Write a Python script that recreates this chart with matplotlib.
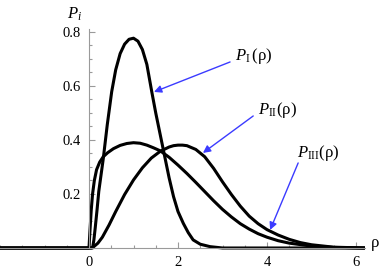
import matplotlib
matplotlib.use("Agg")
import matplotlib.pyplot as plt
import numpy as np

plt.rcParams['font.family'] = ['Liberation Serif', 'DejaVu Serif']
plt.rcParams['mathtext.fontset'] = 'custom'
plt.rcParams['mathtext.rm'] = 'Liberation Serif'
plt.rcParams['mathtext.it'] = 'Liberation Serif:italic'

# Curve I (tall peak at rho~1)
rho_I = [-2.0, 0.08, 0.11, 0.14, 0.18, 0.22, 0.27, 0.32, 0.41, 0.51, 0.60, 0.70,
         0.80, 0.90, 1.00, 1.10, 1.20, 1.30, 1.41, 1.50, 1.60, 1.70, 1.80, 1.90,
         2.00, 2.12, 2.23, 2.34, 2.50, 2.72, 3.0, 6.2]
P_I = [0.0, 0.0, 0.03, 0.075, 0.14, 0.21, 0.27, 0.33, 0.456, 0.579, 0.66, 0.72,
       0.755, 0.773, 0.777, 0.766, 0.735, 0.68, 0.579, 0.50, 0.42, 0.34, 0.26, 0.19,
       0.135, 0.091, 0.057, 0.03, 0.014, 0.005, 0.0, 0.0]

# Curve with broad peak at rho~1 (flat top, long tail)
rho_B = [-2.0, 0.0, 0.02, 0.05, 0.08, 0.12, 0.17, 0.24, 0.32, 0.42, 0.55, 0.70,
         0.85, 1.00, 1.15, 1.30, 1.45, 1.60, 1.80, 2.00, 2.20, 2.40, 2.60, 2.80,
         3.00, 3.20, 3.40, 3.60, 3.80, 4.00, 4.25, 4.50, 5.0, 5.5, 6.2]
P_B = [0.0, 0.0, 0.06, 0.14, 0.20, 0.25, 0.29, 0.318, 0.338, 0.353, 0.368, 0.38,
       0.387, 0.39, 0.388, 0.381, 0.371, 0.36, 0.336, 0.307, 0.276, 0.243, 0.209, 0.175,
       0.143, 0.115, 0.09, 0.07, 0.053, 0.04, 0.027, 0.018, 0.007, 0.002, 0.0]

# Curve peaking at rho~2
rho_C = [-2.0, 0.05, 0.10, 0.20, 0.30, 0.45, 0.60, 0.80, 1.00, 1.20, 1.40, 1.60,
         1.80, 1.90, 2.00, 2.10, 2.20, 2.40, 2.60, 2.80, 3.00, 3.20, 3.40, 3.60,
         3.80, 4.00, 4.25, 4.50, 4.75, 5.0, 5.5, 6.2]
P_C = [0.0, 0.0, 0.004, 0.018, 0.04, 0.085, 0.135, 0.198, 0.252, 0.297, 0.333, 0.358,
       0.374, 0.379, 0.381, 0.381, 0.379, 0.365, 0.338, 0.295, 0.245, 0.198, 0.155, 0.118,
       0.09, 0.068, 0.048, 0.032, 0.02, 0.012, 0.003, 0.0]

x_ticks_major = [0, 2, 4, 6]
x_tick_labels = ['0', '2', '4', '6']
y_ticks_major = [0.2, 0.4, 0.6, 0.8]
y_tick_labels = ['0.2', '0.4', '0.6', '0.8']

fig = plt.figure(figsize=(3.82, 2.71), dpi=100)
ax = fig.add_axes([0, 0, 1, 1])
ax.set_xlim(-2.0, 6.584)
ax.set_ylim(-0.0852, 0.9185)

axis_col = '#9a9a9a'
for s in ['top', 'right']:
    ax.spines[s].set_visible(False)
ax.spines['left'].set_position(('data', 0))
ax.spines['bottom'].set_position(('data', 0))
ax.spines['left'].set_bounds(0, 0.81)
ax.spines['bottom'].set_bounds(-2.0, 6.2)
ax.spines['left'].set_color(axis_col)
ax.spines['bottom'].set_color(axis_col)
ax.spines['left'].set_linewidth(0.8)
ax.spines['bottom'].set_linewidth(0.8)

ax.set_xticks(x_ticks_major)
ax.set_xticklabels(x_tick_labels)
ax.set_xticks(np.arange(-2.0, 6.01, 0.5), minor=True)
ax.set_yticks(y_ticks_major)
ax.set_yticklabels(y_tick_labels)
ax.set_yticks(np.arange(0.05, 0.81, 0.05), minor=True)
ax.tick_params(which='both', direction='in', color=axis_col, width=0.8, labelsize=10.5)
ax.tick_params(which='major', length=4)
ax.tick_params(which='minor', length=2.5)
ax.tick_params(axis='x', pad=6)
ax.tick_params(axis='y', pad=6)

for r, p in [(rho_I, P_I), (rho_B, P_B), (rho_C, P_C)]:
    ax.plot(r, p, color='black', lw=2.2, solid_capstyle='butt', solid_joinstyle='round', clip_on=False)

ax.text(-0.32, 0.865, r'$P_i$', fontsize=12, ha='center', va='center')
ax.text(6.42, 0.01, r'$\mathrm{ρ}$', fontsize=12, ha='center', va='center')

arrow_col = '#3b3bff'
aprops = dict(arrowstyle='-|>', color=arrow_col, lw=1.0, mutation_scale=11, shrinkA=0, shrinkB=0)
ax.annotate('', xy=(1.46, 0.578), xytext=(3.17, 0.689), arrowprops=aprops)
ax.annotate('', xy=(2.56, 0.352), xytext=(3.69, 0.489), arrowprops=aprops)
ax.annotate('', xy=(4.07, 0.067), xytext=(4.70, 0.315), arrowprops=aprops)

ax.text(3.28, 0.71, r'$P_{\mathrm{I}}\,(\mathrm{ρ})$', fontsize=12, ha='left', va='center')
ax.text(3.80, 0.511, r'$P_{\mathrm{II}}(\mathrm{ρ})$', fontsize=12, ha='left', va='center')
ax.text(4.67, 0.352, r'$P_{\mathrm{III}}(\mathrm{ρ})$', fontsize=12, ha='left', va='center')

fig.savefig('out.png', dpi=100)
